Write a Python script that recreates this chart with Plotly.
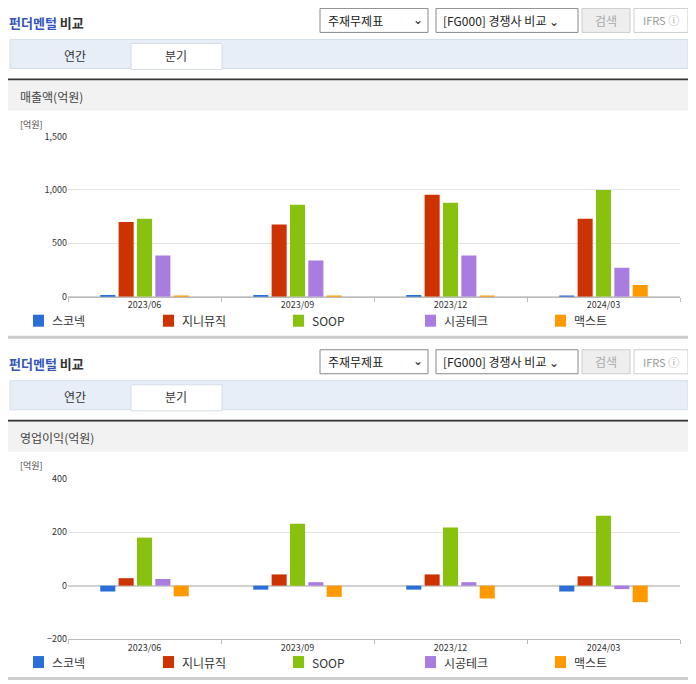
import plotly.graph_objects as go

periods = ["2023/06", "2023/09", "2023/12", "2024/03"]
companies = ["스코넥", "지니뮤직", "SOOP", "시공테크", "맥스트"]
colors = ["#2a6fd8", "#cc3300", "#88c20e", "#a97de0", "#ff9900"]
revenue = {
    "스코넥": [15, 15, 15, 5],
    "지니뮤직": [700, 675, 955, 730],
    "SOOP": [730, 860, 880, 1000],
    "시공테크": [385, 340, 385, 270],
    "맥스트": [5, 2, 5, 110],
}
op_income = {
    "스코넥": [-22, -15, -15, -22],
    "지니뮤직": [28, 42, 42, 35],
    "SOOP": [180, 232, 218, 262],
    "시공테크": [25, 13, 13, -13],
    "맥스트": [-40, -42, -48, -62],
}
rev_ticks = [0, 500, 1000, 1500]
op_ticks = [-200, 0, 200, 400]

W, H = 680, 684
XOFF, YOFF, YS = 8, 14.6, 0.98
def px(x): return (x - XOFF) / W
def py(y): return 1 - ((y - YOFF) / YS) / H

fig = go.Figure()
for c, col in zip(companies, colors):
    fig.add_trace(go.Bar(x=periods, y=revenue[c], name=c, marker_color=col,
                         marker_line_width=0, xaxis="x", yaxis="y", showlegend=False))
    fig.add_trace(go.Bar(x=periods, y=op_income[c], name=c, marker_color=col,
                         marker_line_width=0, xaxis="x2", yaxis="y2", showlegend=False))

shapes, ann = [], []
FONT = "Noto Sans CJK KR"

def rect(x0, y0, x1, y1, fill=None, line=None, lw=1):
    shapes.append(dict(type="rect", xref="paper", yref="paper", x0=px(x0), x1=px(x1),
                       y0=py(y1), y1=py(y0), fillcolor=fill or "rgba(0,0,0,0)",
                       line=dict(color=line or "rgba(0,0,0,0)", width=lw if line else 0),
                       layer="below"))

def text(x, y, t, size=12, color="#333", anchor="left"):
    ann.append(dict(xref="paper", yref="paper", x=px(x), y=py(y), text=t, showarrow=False,
                    xanchor=anchor, yanchor="middle", font=dict(size=size, color=color, family=FONT)))

for off, header in [(0, "매출액(억원)"), (341, "영업이익(억원)")]:
    text(7, 22 + off, "<b><span style='color:#3355bb'>펀더멘털</span> 비교</b>", 13, "#333")
    rect(320, 8 + off, 428, 32 + off, "white", "#888")
    text(326, 20 + off, "주재무제표", 12, "#222")
    text(418, 18 + off, "⌄", 12, "#222", "center")
    rect(436, 8 + off, 578, 32 + off, "white", "#888")
    text(441, 20 + off, "[FG000] 경쟁사 비교 ⌄", 12, "#222")
    rect(582, 8 + off, 630, 32 + off, "#eeeeee", "#ccc")
    text(606, 20 + off, "검색", 12, "#aaa", "center")
    rect(634, 8 + off, 688, 32 + off, "white", "#ccc")
    text(661, 20 + off, "IFRS ⓘ", 11, "#999", "center")
    rect(10, 39 + off, 688, 68 + off, "#e8eef7", "#d5dde8")
    rect(131, 43 + off, 222, 69 + off, "white", "#d5dde8")
    text(75, 55 + off, "연간", 12, "#333", "center")
    text(176, 55 + off, "분기", 12, "#333", "center")
    rect(8, 78 + off, 690, 80 + off, "#333", None)
    rect(8, 80 + off, 690, 110 + off, "#f2f2f2", None)
    text(18, 96 + off, header, 12, "#444")
    text(18, 124 + off, "[억원]", 9, "#444")
    rect(8, 335 + off, 690, 338 + off, "#cccccc", None)
    lx = [33, 163, 293, 425, 555]
    ly = 320 + off
    for x, c, col in zip(lx, companies, colors):
        rect(x, ly - 6, x + 11, ly + 6, col, None)
        text(x + 17, ly, c, 12, "#333")

ax = dict(showgrid=False, showline=True, linecolor="#bbb", ticks="outside", ticklen=4,
          tickcolor="#bbb", tickfont=dict(size=9, color="#333", family=FONT),
          tickson="boundaries", fixedrange=True)
ay = dict(showgrid=True, gridcolor="#e3e3e3", zeroline=True, zerolinecolor="#d0d0d0",
          tickfont=dict(size=9, color="#333", family=FONT), ticks="", fixedrange=True)

fig.update_layout(
    width=W, height=H, margin=dict(l=0, r=0, t=0, b=0),
    paper_bgcolor="white", plot_bgcolor="white",
    barmode="group", bargap=0.4, bargroupgap=0.18,
    xaxis=dict(**ax, domain=[px(68), px(680)], anchor="y"),
    yaxis=dict(**ay, domain=[py(296), py(136)], range=[0, 1500], tickvals=rev_ticks,
               tickformat=",", anchor="x"),
    xaxis2=dict(**ax, domain=[px(68), px(680)], anchor="y2"),
    yaxis2=dict(**ay, domain=[py(638), py(478)], range=[-200, 400], tickvals=op_ticks,
                anchor="x2"),
    shapes=shapes, annotations=ann,
)
fig.write_html("out.html")
